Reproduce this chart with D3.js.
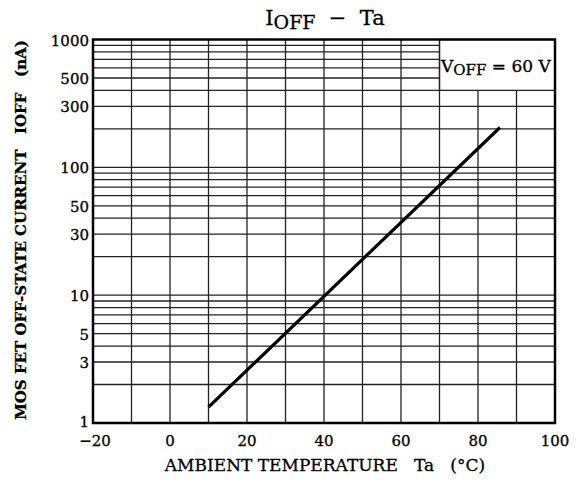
<!DOCTYPE html>
<html>
<head>
<meta charset="utf-8">
<script src="https://cdn.jsdelivr.net/npm/d3@7/dist/d3.min.js"></script>
<style>
  body { margin: 0; background: #fff; }
  text { font-family: "DejaVu Serif", serif; fill: #000; stroke: #000; stroke-width: 0.3px; white-space: pre; }
</style>
</head>
<body>
<div id="chart"></div>
<script>
// data
var tempTicks = [-20, 0, 20, 40, 60, 80, 100];
var currentTicks = [1, 3, 5, 10, 30, 50, 100, 300, 500, 1000];
var gridTemps = [-10, 0, 10, 20, 30, 40, 50, 60, 70, 80, 90];
var gridCurrents = [2, 3, 4, 5, 6, 7, 8, 9, 10, 20, 30, 40, 50, 60, 70, 80, 90,
                    100, 200, 300, 400, 500, 600, 700, 800, 900];
var lineTemps = [10, 85.7];
var lineCurrents = [1.33, 205];
var boxTemps = [70, 100];
var boxCurrents = [400, 1000];

var W = 578, H = 491;
var svg = d3.select('#chart').append('svg')
    .attr('width', W).attr('height', H);

var x = d3.scaleLinear().domain([-20, 100]).range([93, 555]);
var y = d3.scaleLog().domain([1, 1000]).range([423, 39.5]);

// horizontal grid
svg.append('g').selectAll('line').data(gridCurrents).enter().append('line')
    .attr('x1', x(-20))
    .attr('x2', function(d) { return d >= boxCurrents[0] ? x(boxTemps[0]) : x(100); })
    .attr('y1', function(d) { return y(d); })
    .attr('y2', function(d) { return y(d); })
    .attr('stroke', '#222').attr('stroke-width', 1.3);

// vertical grid
svg.append('g').selectAll('line').data(gridTemps).enter().append('line')
    .attr('x1', function(d) { return x(d); })
    .attr('x2', function(d) { return x(d); })
    .attr('y1', y(1))
    .attr('y2', function(d) { return d > boxTemps[0] ? y(boxCurrents[0]) : y(1000); })
    .attr('stroke', '#222').attr('stroke-width', 1.3);

// box round the condition label
svg.append('rect')
    .attr('x', x(boxTemps[0])).attr('y', y(boxCurrents[1]))
    .attr('width', x(boxTemps[1]) - x(boxTemps[0]))
    .attr('height', y(boxCurrents[0]) - y(boxCurrents[1]))
    .attr('fill', 'none').attr('stroke', '#222').attr('stroke-width', 1.3);

// frame
svg.append('rect')
    .attr('x', x(-20)).attr('y', y(1000))
    .attr('width', x(100) - x(-20)).attr('height', y(1) - y(1000))
    .attr('fill', 'none').attr('stroke', '#000').attr('stroke-width', 2.5);

// the curve
svg.append('path')
    .datum(d3.zip(lineTemps, lineCurrents))
    .attr('d', d3.line().x(function(d) { return x(d[0]); }).y(function(d) { return y(d[1]); }))
    .attr('fill', 'none').attr('stroke', '#000').attr('stroke-width', 3.2);

// tick labels
svg.append('g').selectAll('text').data(tempTicks).enter().append('text')
    .attr('x', function(d) { return x(d) + (d < 0 ? 2 : 0); })
    .attr('y', 446)
    .attr('text-anchor', 'middle')
    .style('font-size', '15px')
    .text(function(d) { return d < 0 ? '\u2212' + Math.abs(d) : d; });

svg.append('g').selectAll('text').data(currentTicks).enter().append('text')
    .attr('x', 89)
    .attr('y', function(d) { return y(d) + (d === 1 ? 4 : 6); })
    .attr('text-anchor', 'end')
    .style('font-size', '15px')
    .text(function(d) { return d; });

// title
var title = svg.append('text')
    .attr('x', 325).attr('y', 25)
    .attr('text-anchor', 'middle')
    .style('font-size', '21px');
title.append('tspan').text('I');
title.append('tspan').attr('dy', 4).style('font-size', '19px').text('OFF');
title.append('tspan').attr('dy', -4).text('  \u2212  Ta');

// condition label
var cond = svg.append('text')
    .attr('x', 441).attr('y', 72)
    .style('font-size', '17px');
cond.append('tspan').text('V');
cond.append('tspan').attr('dy', 3).style('font-size', '15px').text('OFF');
cond.append('tspan').attr('dy', -3).text(' = 60 V');

// axis titles
svg.append('text')
    .attr('x', 325).attr('y', 471)
    .attr('text-anchor', 'middle')
    .style('font-size', '17px')
    .text('AMBIENT TEMPERATURE   Ta   (\u00B0C)');

svg.append('text')
    .attr('transform', 'translate(26,230) rotate(-90)')
    .attr('text-anchor', 'middle')
    .style('font-size', '15px')
    .style('font-weight', 'bold')
    .text('MOS FET OFF-STATE CURRENT   IOFF   (nA)');
</script>
</body>
</html>
